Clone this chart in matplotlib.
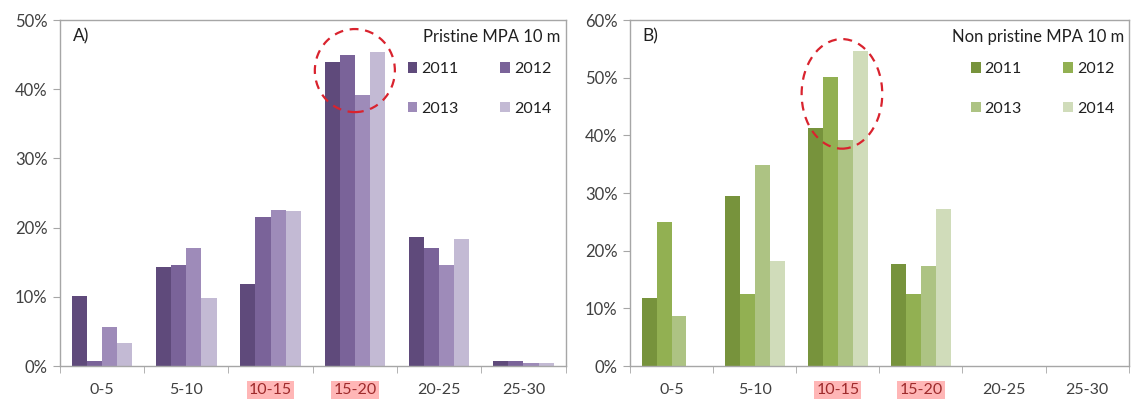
import numpy as np
import matplotlib
matplotlib.use("Agg")
import matplotlib.pyplot as plt
from matplotlib.patches import Ellipse, Patch
from matplotlib.ticker import FuncFormatter, MultipleLocator

plt.rcParams['font.family'] = ['Lato', 'DejaVu Sans']

categories = ['0-5', '5-10', '10-15', '15-20', '20-25', '25-30']
years = ['2011', '2012', '2013', '2014']

# panel A: pristine MPA, % per size class
pristine_2011 = [10.1, 14.3, 11.85, 44.0, 18.6, 0.8]
pristine_2012 = [0.7, 14.6, 21.6, 44.9, 17.0, 0.7]
pristine_2013 = [5.6, 17.05, 22.6, 39.1, 14.6, 0.5]
pristine_2014 = [3.4, 9.9, 22.4, 45.4, 18.4, 0.5]

# panel B: non pristine MPA
nonpristine_2011 = [11.8, 29.5, 41.2, 17.7, 0, 0]
nonpristine_2012 = [25.0, 12.5, 50.1, 12.5, 0, 0]
nonpristine_2013 = [8.7, 34.9, 39.2, 17.4, 0, 0]
nonpristine_2014 = [0, 18.2, 54.7, 27.3, 0, 0]

highlight_a = ['10-15', '15-20']
highlight_b = ['10-15', '15-20']

purples = ['#5f4a7b', '#7a6399', '#9e8bb9', '#c3bad4']
greens = ['#77933c', '#92b052', '#adc383', '#d0dcba']

grey = '#a6a6a6'
text_col = '#404040'


def draw_panel(ax, series, colors, ymax, letter, title, highlight, ell_center, ell_size):
    x = np.arange(len(categories))
    bw = 0.18
    for i, vals in enumerate(series):
        ax.bar(x - 1.5 * bw + i * bw, vals, width=bw, color=colors[i], linewidth=0, zorder=2)

    ax.set_xlim(-0.5, len(categories) - 0.5)
    ax.set_ylim(0, ymax)
    ax.yaxis.set_major_locator(MultipleLocator(10))
    ax.yaxis.set_major_formatter(FuncFormatter(lambda v, p: f"{int(v)}%"))

    ax.set_xticks(x)
    ax.set_xticklabels(categories)
    ax.set_xticks(np.arange(-0.5, len(categories)), minor=True)
    ax.tick_params(axis='x', which='major', length=0, pad=12, labelsize=11.5, colors=text_col)
    ax.tick_params(axis='x', which='minor', length=5, color=grey, direction='out')
    ax.tick_params(axis='y', length=5, labelsize=12, colors=text_col, pad=4)
    ax.tick_params(axis='y', color=grey)

    for lab in ax.get_xticklabels():
        if lab.get_text() in highlight:
            lab.set_color('#9e2a2b')
            lab.set_bbox(dict(facecolor='#ffb6b6', edgecolor='none', pad=1.5))

    for s in ax.spines.values():
        s.set_color(grey)
        s.set_linewidth(1.0)

    ax.text(0.025, 0.975, letter, transform=ax.transAxes, ha='left', va='top',
            fontsize=12.5, color='#202020')
    ax.text(0.99, 0.975, title, transform=ax.transAxes, ha='right', va='top',
            fontsize=12, color='#202020')

    # legend fills by column, so reorder to get 2011 2012 / 2013 2014 in rows
    order = [0, 2, 1, 3]
    handles = [Patch(facecolor=colors[i], edgecolor='none') for i in order]
    labels = [years[i] for i in order]
    leg = ax.legend(handles, labels, ncol=2, loc='upper right', bbox_to_anchor=(1.0, 0.92),
                    frameon=False, fontsize=11.5, handlelength=0.6, handleheight=0.6,
                    handletextpad=0.25, columnspacing=2.6, labelspacing=1.6)
    for t in leg.get_texts():
        t.set_color('#202020')

    ell = Ellipse(ell_center, ell_size[0], ell_size[1], fill=False, edgecolor='#d9232e',
                  linestyle=(0, (4, 3)), linewidth=1.6, zorder=3)
    ax.add_patch(ell)


fig = plt.figure(figsize=(11.31, 4.01), dpi=100)
ax_a = fig.add_axes([0.053, 0.087, 0.447, 0.863])
ax_b = fig.add_axes([0.557, 0.087, 0.441, 0.863])

draw_panel(ax_a, [pristine_2011, pristine_2012, pristine_2013, pristine_2014], purples, 50,
           'A)', 'Pristine MPA 10 m', highlight_a, (3.0, 42.7), (0.95, 12.0))
draw_panel(ax_b, [nonpristine_2011, nonpristine_2012, nonpristine_2013, nonpristine_2014], greens, 60,
           'B)', 'Non pristine MPA 10 m', highlight_b, (2.05, 47.2), (0.97, 19.0))

fig.savefig('out.png', dpi=100)
